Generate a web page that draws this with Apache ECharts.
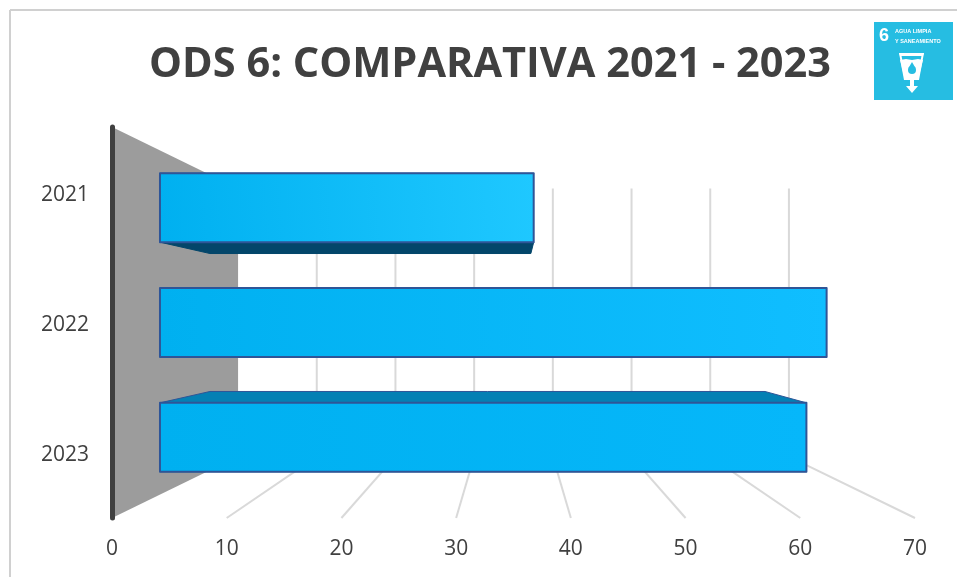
<!DOCTYPE html>
<html>
<head>
<meta charset="utf-8">
<title>ODS 6</title>
<script src="https://cdn.jsdelivr.net/npm/echarts@6/dist/echarts.min.js"></script>
<style>
html, body { margin: 0; padding: 0; background: #fff; }
#main { width: 957px; height: 577px; }
</style>
</head>
<body>
<div id="main"></div>
<script>
var years = ['2021', '2022', '2023'];
var values = [37, 66, 64];
var gridTicks = [10, 20, 30, 40, 50, 60, 70];

// profundidades de la perspectiva (0 = plano frontal, 1 = punto de fuga)
var depthBarFront = 0.1195;
var depthBarBack = 0.244;
var depthWall = 0.314;

var font = '"Open Sans", sans-serif';
var textColor = '#404040';

// proyecta un punto del plano frontal hacia el centro de la rejilla
function project(p, rect, depth) {
	var cx = rect.x + rect.width / 2;
	var cy = rect.y + rect.height / 2;
	return [cx + (p[0] - cx) * (1 - depth), cy + (p[1] - cy) * (1 - depth)];
}

function renderWall(params, api) {
	var r = params.coordSys;
	var tl = [r.x, r.y], bl = [r.x, r.y + r.height];
	return {
		type: 'polygon',
		shape: { points: [tl, project(tl, r, depthWall), project(bl, r, depthWall), bl] },
		style: { fill: '#9c9c9c' }
	};
}

function renderGrid(params, api) {
	var r = params.coordSys;
	var x = api.coord([api.value(0), 0])[0];
	var top = [x, r.y], bottom = [x, r.y + r.height];
	var backTop = project(top, r, depthWall);
	var backBottom = project(bottom, r, depthWall);
	var line = { stroke: '#d9d9d9', lineWidth: 2 };
	return {
		type: 'group',
		children: [
			{ type: 'line', shape: { x1: bottom[0], y1: bottom[1], x2: backBottom[0], y2: backBottom[1] }, style: line },
			{ type: 'line', shape: { x1: backTop[0], y1: backTop[1], x2: backBottom[0], y2: backBottom[1] }, style: line }
		]
	};
}

function renderBar(params, api) {
	var r = params.coordSys;
	var x0 = api.coord([0, api.value(1)]);
	var x1 = api.coord([api.value(0), api.value(1)]);
	var h = api.size([0, 1])[1] * 0.6;
	var corners = [[x0[0], x0[1] - h / 2], [x1[0], x1[1] - h / 2], [x1[0], x1[1] + h / 2], [x0[0], x0[1] + h / 2]];
	var f = corners.map(function (p) { return project(p, r, depthBarFront); });
	var b = corners.map(function (p) { return project(p, r, depthBarBack); });
	var bright = ['#1fc8ff', '#10beff', '#06b7fa'][params.dataIndex];
	return {
		type: 'group',
		children: [
			{ type: 'polygon', shape: { points: [f[0], b[0], b[1], f[1]] }, style: { fill: '#0480b4', stroke: '#2f5597', lineWidth: 1 } },
			{ type: 'polygon', shape: { points: [f[3], b[3], b[2], f[2]] }, style: { fill: '#03466a', stroke: '#03466a', lineWidth: 1 } },
			{
				type: 'polygon',
				shape: { points: f },
				style: {
					fill: new echarts.graphic.LinearGradient(0, 0.6, 1, 0.2, [
						{ offset: 0, color: '#00b0f0' },
						{ offset: 1, color: bright }
					]),
					stroke: '#2f5597',
					lineWidth: 2,
					lineJoin: 'round'
				}
			}
		]
	};
}

var chart = echarts.init(document.getElementById('main'), null, { renderer: 'canvas' });

var option = {
	animation: false,
	backgroundColor: '#fff',
	title: {
		text: 'ODS 6: COMPARATIVA 2021 - 2023',
		left: 485,
		top: 60,
		textAlign: 'center',
		textVerticalAlign: 'middle',
		textStyle: { fontFamily: font, fontSize: 41.5, fontWeight: 'bold', color: textColor }
	},
	grid: { left: 112, right: 42, top: 127, bottom: 59, containLabel: false },
	xAxis: {
		type: 'value',
		min: 0,
		max: 70,
		interval: 10,
		axisLine: { show: false },
		axisTick: { show: false },
		splitLine: { show: false },
		axisLabel: { fontFamily: font, fontSize: 21, color: textColor, margin: 21 }
	},
	yAxis: {
		type: 'category',
		data: years,
		inverse: true,
		z: 5,
		axisLine: { lineStyle: { color: '#404040', width: 5, cap: 'round' } },
		axisTick: { show: false },
		axisLabel: { fontFamily: font, fontSize: 21, color: textColor, margin: 23, lineHeight: 5, verticalAlign: 'top' }
	},
	series: [
		{
			type: 'custom',
			z: 1,
			silent: true,
			renderItem: renderGrid,
			data: gridTicks.map(function (t) { return [t]; }),
			encode: { x: 0 }
		},
		{
			type: 'custom',
			z: 2,
			silent: true,
			renderItem: renderWall,
			data: [[0]],
			encode: { x: 0 }
		},
		{
			type: 'custom',
			z: 3,
			renderItem: renderBar,
			data: values.map(function (v, i) { return [v, i]; }),
			encode: { x: 0, y: 1 }
		}
	],
	graphic: [
		{ type: 'line', silent: true, shape: { x1: 10, y1: 10, x2: 957, y2: 10 }, style: { stroke: '#d0d0d0', lineWidth: 2 } },
		{ type: 'line', silent: true, shape: { x1: 10, y1: 10, x2: 10, y2: 577 }, style: { stroke: '#d0d0d0', lineWidth: 2 } },
		{ type: 'rect', silent: true, shape: { x: 874, y: 22, width: 79, height: 78 }, style: { fill: '#26bde2' } },
		{ type: 'text', silent: true, x: 884, y: 36, style: { text: '6', fill: '#fff', font: 'bold 18px "Liberation Sans Narrow", "Liberation Sans", sans-serif', textAlign: 'center', textVerticalAlign: 'middle' } },
		{ type: 'text', silent: true, x: 895, y: 31, style: { text: 'AGUA LIMPIA', fill: '#fff', font: 'bold 5.5px "Liberation Sans Narrow", "Liberation Sans", sans-serif', textVerticalAlign: 'middle' } },
		{ type: 'text', silent: true, x: 895, y: 41, style: { text: 'Y SANEAMIENTO', fill: '#fff', font: 'bold 5.5px "Liberation Sans Narrow", "Liberation Sans", sans-serif', textVerticalAlign: 'middle' } },
		// vaso
		{ type: 'polygon', silent: true, shape: { points: [[899, 53], [924, 53], [923, 56], [900, 56]] }, style: { fill: '#fff' } },
		{ type: 'polygon', silent: true, shape: { points: [[900, 60], [906, 59], [912, 60], [918, 59], [923, 60], [918, 80], [905, 80]] }, style: { fill: '#fff' } },
		{ type: 'polygon', silent: true, shape: { points: [[899, 53], [901, 53], [906, 80], [904, 80]] }, style: { fill: '#fff' } },
		{ type: 'polygon', silent: true, shape: { points: [[922, 53], [924, 53], [919, 80], [917, 80]] }, style: { fill: '#fff' } },
		// gota
		{ type: 'circle', silent: true, shape: { cx: 912, cy: 70, r: 4 }, style: { fill: '#26bde2' } },
		{ type: 'polygon', silent: true, shape: { points: [[912, 62], [915.5, 68], [908.5, 68]] }, style: { fill: '#26bde2' } },
		// flecha
		{ type: 'polygon', silent: true, shape: { points: [[910, 80], [914, 80], [914, 86], [918, 86], [912, 93], [906, 86], [910, 86]] }, style: { fill: '#fff' } }
	]
};

chart.setOption(option);
</script>
</body>
</html>
